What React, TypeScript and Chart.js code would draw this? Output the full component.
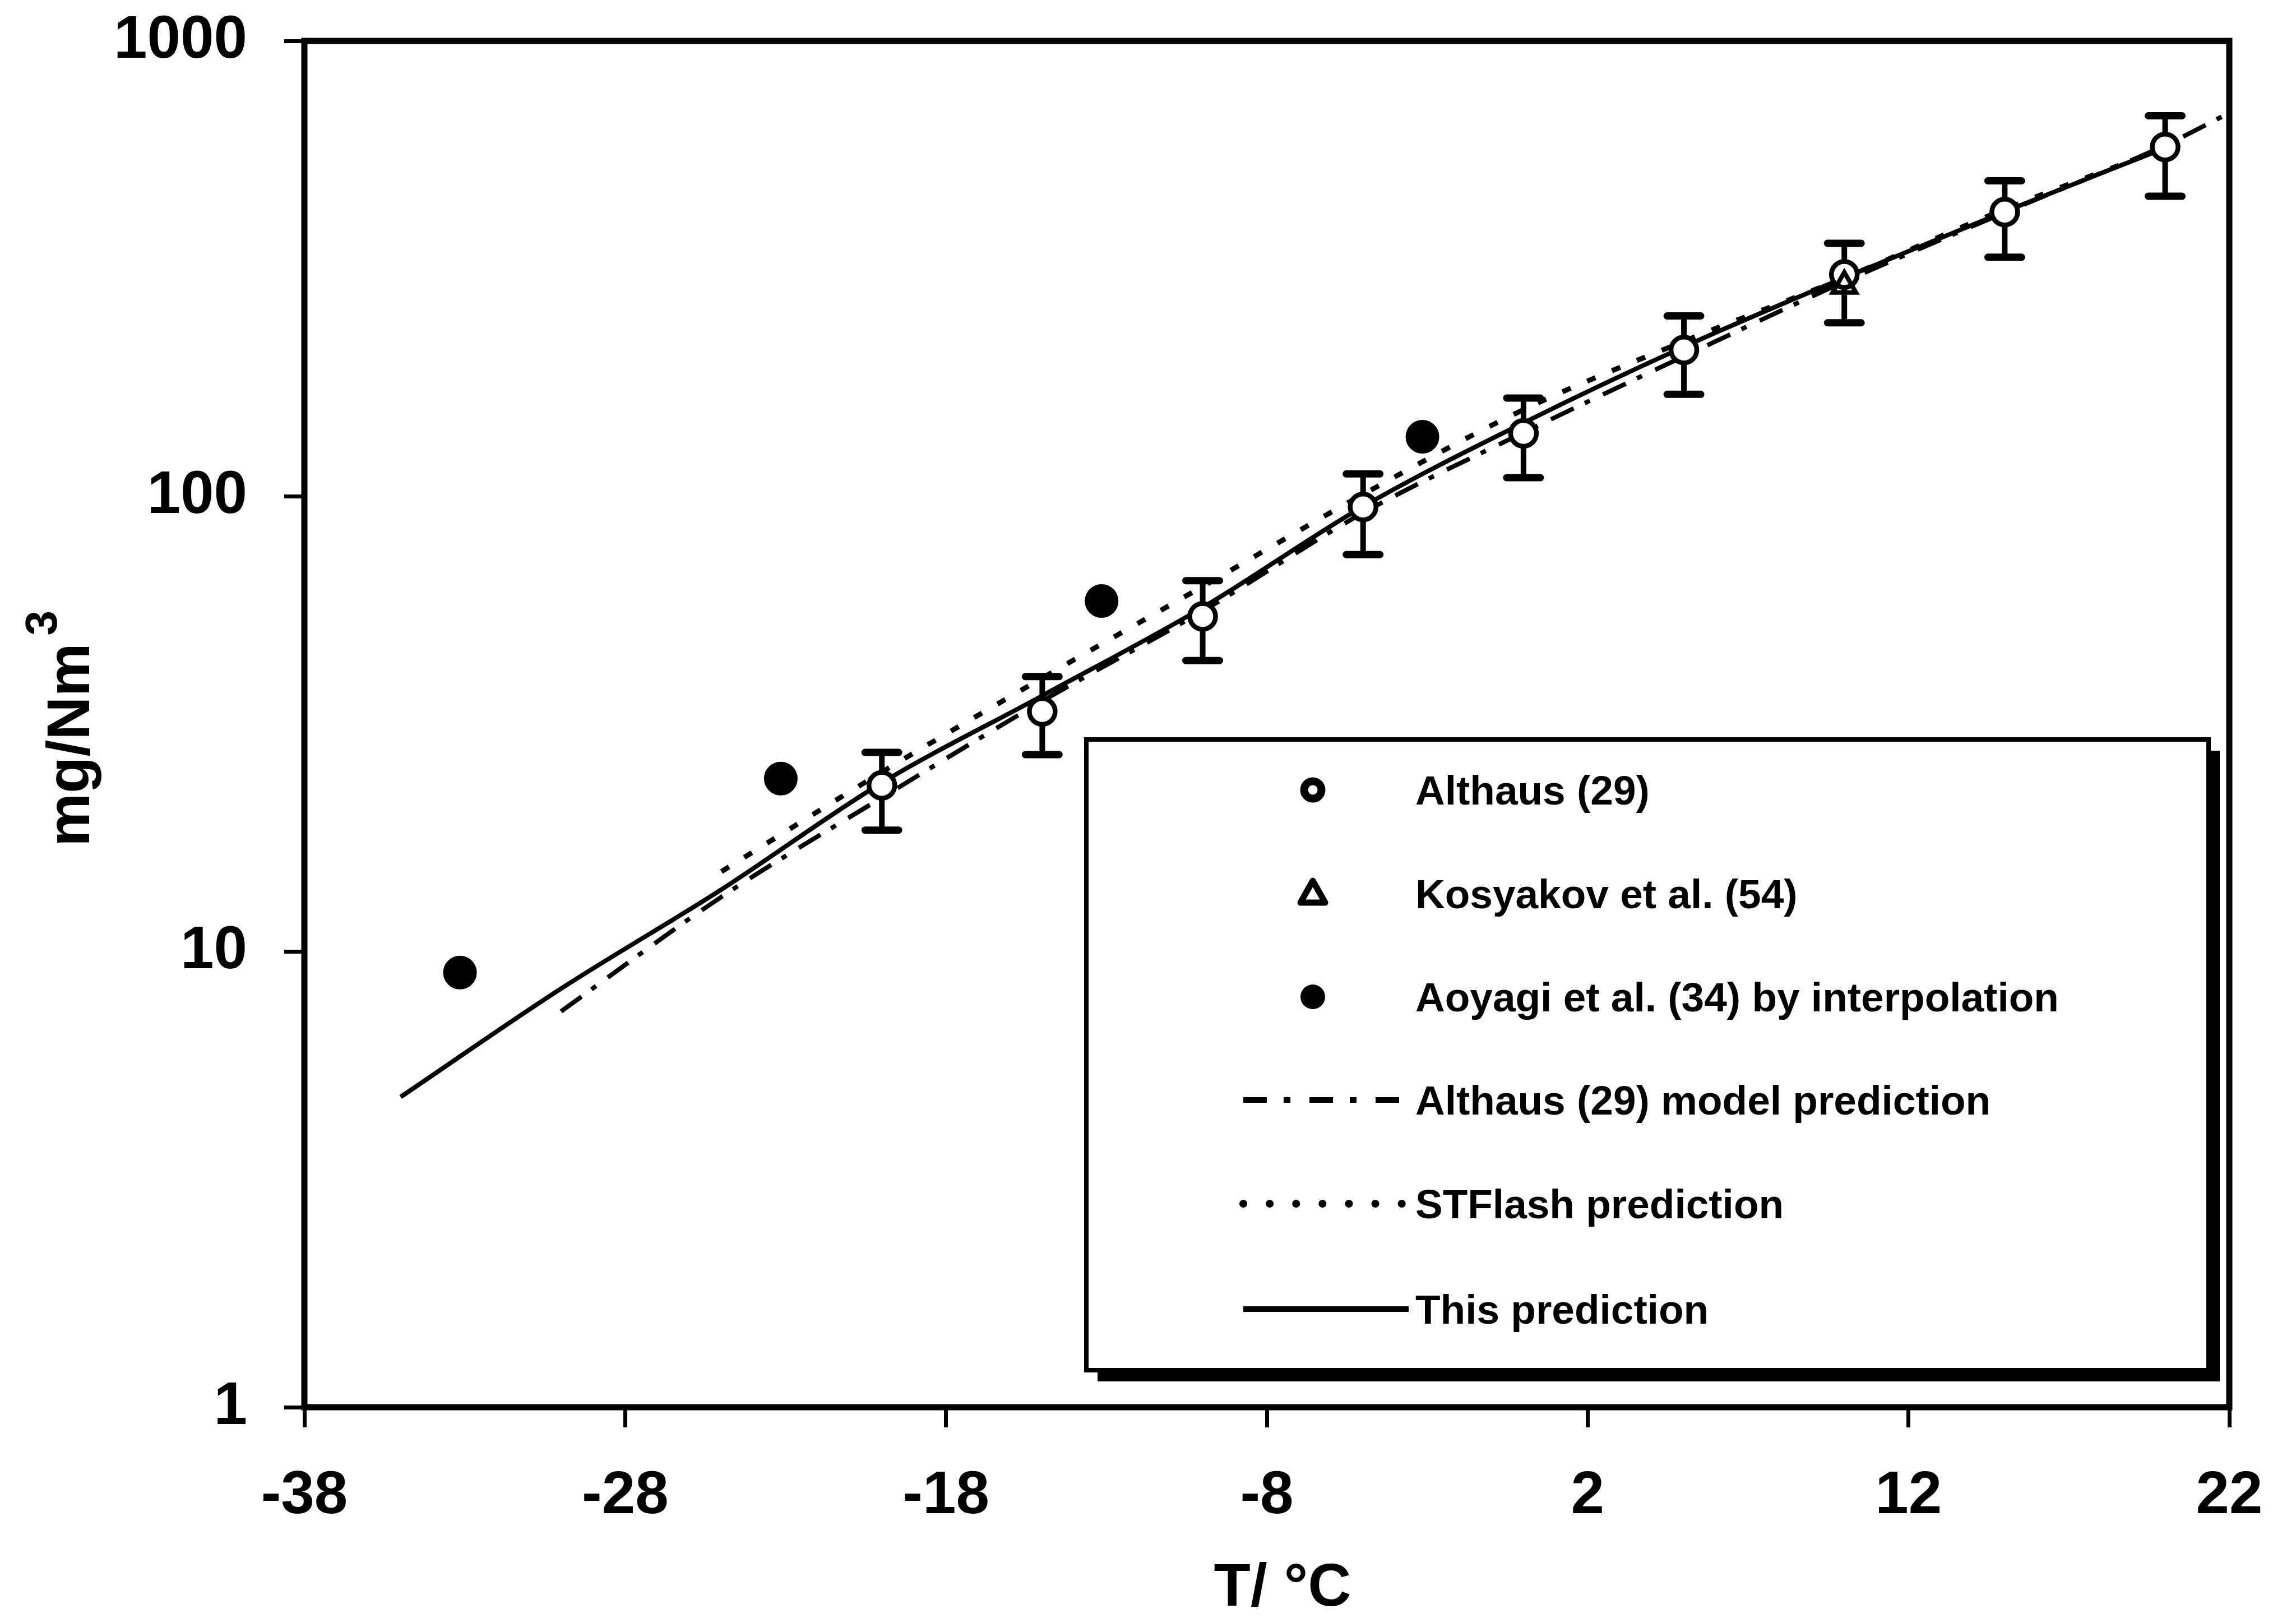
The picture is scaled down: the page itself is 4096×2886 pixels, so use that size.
import React, { useEffect, useRef } from "react";
import { Chart, registerables } from "chart.js";

Chart.register(...registerables);

// ---------- data ----------
const xTicks = [-38, -28, -18, -8, 2, 12, 22];
const xTickLabels = ["-38", "-28", "-18", "-8", "2", "12", "22"];
const yTicks = [1, 10, 100, 1000];
const yTickLabels = ["1", "10", "100", "1000"];

const xTitle = "T/ °C";
const yTitleMain = "mg/Nm";
const yTitleSup = "3";

const legendLabels = [
  "Althaus (29)",
  "Kosyakov et al. (54)",
  "Aoyagi et al. (34) by interpolation",
  "Althaus (29) model prediction",
  "STFlash prediction",
  "This prediction",
];

// Althaus (29) experimental points with error bars
const althausT = [-20, -15, -10, -5, 0, 5, 10, 15, 20];
const althausV = [23.2, 33.7, 54.5, 94.8, 137.5, 209.6, 307, 421, 585];
const althausHi = [27.4, 40.2, 65.3, 112, 164.4, 249, 359.5, 493, 685];
const althausLo = [18.5, 27.1, 43.6, 74.5, 109.9, 167.5, 240.5, 335, 456];

// Kosyakov et al. (54)
const kosyakovT = [10];
const kosyakovV = [290];

// Aoyagi et al. (34) by interpolation
const aoyagiT = [-33.15, -23.15, -13.15, -3.15];
const aoyagiV = [9.0, 24.0, 58.9, 135.2];

// Althaus (29) model prediction (dash-dot)
const modelT = [-30, -25, -20, -15, -10, -5, 0, 5, 10, 15, 20, 22];
const modelV = [7.4, 13.2, 21.8, 35.5, 56, 92, 138, 203, 296, 420, 590, 695];

// STFlash prediction (dotted)
const stflashT = [-25, -20, -15, -10, -5, 0, 5, 10, 15, 20];
const stflashV = [15.0, 24.8, 39.9, 63.4, 101, 155, 219, 302, 427, 582];

// This prediction (solid)
const thisT = [-35, -30, -25, -20, -15, -10, -5, 0, 5, 10, 15, 20];
const thisV = [4.8, 8.3, 13.7, 23.5, 36.5, 57, 95, 145, 213, 302, 422, 582];

// ---------- helpers ----------
const pts = (xs: number[], ys: number[]) => xs.map((x, i) => ({ x, y: ys[i] }));
const FONT = "'Liberation Sans', Arial, Helvetica, sans-serif";

const W = 4096;
const H = 2886;

const framePlugin = {
  id: "frameAndErrors",
  beforeDatasetsDraw(chart: any) {
    const { ctx, chartArea: a } = chart;
    ctx.save();
    ctx.strokeStyle = "#000";
    ctx.lineWidth = 11;
    ctx.strokeRect(a.left, a.top, a.right - a.left, a.bottom - a.top);

    const xs = chart.scales.x;
    const ys = chart.scales.y;
    althausT.forEach((t, i) => {
      const px = xs.getPixelForValue(t);
      const pHi = ys.getPixelForValue(althausHi[i]);
      const pLo = ys.getPixelForValue(althausLo[i]);
      ctx.lineWidth = 10;
      ctx.lineCap = "butt";
      ctx.beginPath();
      ctx.moveTo(px, pHi);
      ctx.lineTo(px, pLo);
      ctx.stroke();
      ctx.lineWidth = 13;
      ctx.lineCap = "round";
      ctx.beginPath();
      ctx.moveTo(px - 30, pHi);
      ctx.lineTo(px + 30, pHi);
      ctx.moveTo(px - 30, pLo);
      ctx.lineTo(px + 30, pLo);
      ctx.stroke();
    });
    ctx.restore();
  },
};

const legendPlugin = {
  id: "boxLegend",
  afterDatasetsDraw(chart: any) {
    const { ctx } = chart;
    const L = 1938, T = 1319, R = 3940, B = 2444;
    const shadow = 20;
    ctx.save();
    ctx.fillStyle = "#000";
    ctx.fillRect(L + shadow, T + shadow, R - L, B - T);
    ctx.fillStyle = "#fff";
    ctx.fillRect(L, T, R - L, B - T);
    ctx.strokeStyle = "#000";
    ctx.lineWidth = 8;
    ctx.strokeRect(L, T, R - L, B - T);

    const rows = [1409, 1594, 1778, 1962, 2147, 2335];
    const markerX = 2342;
    const lineX0 = 2218;
    const lineX1 = 2513;
    const textX = 2525;

    const kinds = ["circle", "triangle", "dot", "dashdot", "dotted", "solid"];
    kinds.forEach((k, i) => {
      const y = rows[i];
      ctx.strokeStyle = "#000";
      ctx.fillStyle = "#000";
      ctx.setLineDash([]);
      if (k === "circle") {
        ctx.lineWidth = 14;
        ctx.beginPath();
        ctx.arc(markerX, y, 15.5, 0, Math.PI * 2);
        ctx.stroke();
      } else if (k === "triangle") {
        ctx.lineWidth = 11;
        ctx.lineJoin = "round";
        ctx.beginPath();
        ctx.moveTo(markerX, y - 23);
        ctx.lineTo(markerX - 22, y + 16);
        ctx.lineTo(markerX + 22, y + 16);
        ctx.closePath();
        ctx.stroke();
      } else if (k === "dot") {
        ctx.beginPath();
        ctx.arc(markerX, y, 22, 0, Math.PI * 2);
        ctx.fill();
      } else {
        ctx.lineWidth = k === "dotted" ? 14 : 10;
        ctx.lineCap = k === "dotted" ? "round" : "butt";
        if (k === "dashdot") ctx.setLineDash([42, 30, 12, 34]);
        else if (k === "dotted") ctx.setLineDash([0.1, 47]);
        else ctx.setLineDash([]);
        ctx.beginPath();
        ctx.moveTo(lineX0, y);
        ctx.lineTo(lineX1, y);
        ctx.stroke();
        ctx.setLineDash([]);
      }
      ctx.fillStyle = "#000";
      ctx.font = `bold 73px ${FONT}`;
      ctx.textAlign = "left";
      ctx.textBaseline = "alphabetic";
      ctx.fillText(legendLabels[i], textX, y + 26);
    });
    ctx.restore();
  },
};

const titlePlugin = {
  id: "axisTitles",
  afterDraw(chart: any) {
    const { ctx, chartArea: a } = chart;
    ctx.save();
    ctx.fillStyle = "#000";
    // x title
    ctx.font = `bold 107px ${FONT}`;
    ctx.textAlign = "center";
    ctx.textBaseline = "alphabetic";
    ctx.fillText(xTitle, (a.left + a.right) / 2 + 28, a.bottom + 354);

    // y title (rotated, with superscript)
    ctx.font = `bold 107px ${FONT}`;
    const wMain = ctx.measureText(yTitleMain).width;
    ctx.font = `bold 80px ${FONT}`;
    const wSup = ctx.measureText(yTitleSup).width;
    const gap = 14;
    const total = wMain + gap + wSup;
    const cy = (a.top + a.bottom) / 2 + 8;
    ctx.translate(a.left - 384, cy + total / 2);
    ctx.rotate(-Math.PI / 2);
    ctx.textAlign = "left";
    ctx.font = `bold 107px ${FONT}`;
    ctx.fillText(yTitleMain, 0, 0);
    ctx.font = `bold 80px ${FONT}`;
    ctx.fillText(yTitleSup, wMain + gap, -58);
    ctx.restore();
  },
};

export default function App() {
  const ref = useRef<HTMLCanvasElement>(null);

  useEffect(() => {
    const canvas = ref.current;
    if (!canvas) return;
    Chart.defaults.font.family = FONT;
    Chart.defaults.color = "#000";

    const lineBase = {
      showLine: true,
      pointRadius: 0,
      pointHoverRadius: 0,
      fill: false,
      borderColor: "#000",
      cubicInterpolationMode: "monotone" as const,
    };

    const chart = new Chart(canvas, {
      type: "scatter",
      data: {
        datasets: [
          {
            label: legendLabels[1],
            data: pts(kosyakovT, kosyakovV),
            pointStyle: "triangle",
            pointRadius: 24,
            pointBorderWidth: 8,
            pointBackgroundColor: "rgba(0,0,0,0)",
            pointBorderColor: "#000",
            showLine: false,
          },
          {
            label: legendLabels[0],
            data: pts(althausT, althausV),
            pointStyle: "circle",
            pointRadius: 23,
            pointBorderWidth: 8.5,
            pointBackgroundColor: "#fff",
            pointBorderColor: "#000",
            showLine: false,
          },
          {
            label: legendLabels[2],
            data: pts(aoyagiT, aoyagiV),
            pointStyle: "circle",
            pointRadius: 29,
            pointBorderWidth: 2,
            pointBackgroundColor: "#000",
            pointBorderColor: "#000",
            showLine: false,
          },
          {
            ...lineBase,
            label: legendLabels[5],
            data: pts(thisT, thisV),
            borderWidth: 8,
          },
          {
            ...lineBase,
            label: legendLabels[4],
            data: pts(stflashT, stflashV),
            borderWidth: 9,
            borderDash: [16, 32],
          },
          {
            ...lineBase,
            label: legendLabels[3],
            data: pts(modelT, modelV),
            borderWidth: 8,
            borderDash: [45, 22, 10, 26],
          },
        ],
      },
      options: {
        responsive: false,
        devicePixelRatio: 1,
        animation: false,
        events: [],
        layout: { padding: { left: 0, top: 73, right: W - 3977, bottom: 0 } },
        plugins: {
          legend: { display: false },
          tooltip: { enabled: false },
          title: { display: false },
        },
        scales: {
          x: {
            type: "linear",
            min: -38,
            max: 22,
            afterBuildTicks: (s: any) => {
              s.ticks = xTicks.map((v) => ({ value: v }));
            },
            afterFit: (s: any) => {
              s.height = H - 2510;
              s.paddingLeft = 0;
              s.paddingRight = 0;
            },
            ticks: {
              autoSkip: false,
              maxRotation: 0,
              padding: 59,
              font: { size: 107, weight: "bold", family: FONT },
              color: "#000",
              callback: (_v: any, i: number) => xTickLabels[i],
            },
            grid: {
              drawOnChartArea: false,
              drawTicks: true,
              tickLength: 36,
              tickWidth: 7,
              tickColor: "#000",
              color: "#000",
            },
            border: { display: false },
          },
          y: {
            type: "logarithmic",
            min: 1,
            max: 1000,
            afterBuildTicks: (s: any) => {
              s.ticks = yTicks.map((v) => ({ value: v }));
            },
            afterFit: (s: any) => {
              s.width = 543;
              s.paddingTop = 0;
              s.paddingBottom = 0;
            },
            ticks: {
              autoSkip: false,
              padding: 66,
              font: { size: 107, weight: "bold", family: FONT },
              color: "#000",
              callback: (_v: any, i: number) => yTickLabels[i],
            },
            grid: {
              drawOnChartArea: false,
              drawTicks: true,
              tickLength: 36,
              tickWidth: 7,
              tickColor: "#000",
              color: "#000",
            },
            border: { display: false },
          },
        },
      } as any,
      plugins: [framePlugin, legendPlugin, titlePlugin],
    });
    return () => chart.destroy();
  }, []);

  return (
    <div
      style={{
        position: "fixed",
        left: 0,
        top: 0,
        width: W,
        height: H,
        background: "#fff",
      }}
    >
      <canvas
        ref={ref}
        width={W}
        height={H}
        style={{ display: "block", width: W, height: H }}
      />
    </div>
  );
}
